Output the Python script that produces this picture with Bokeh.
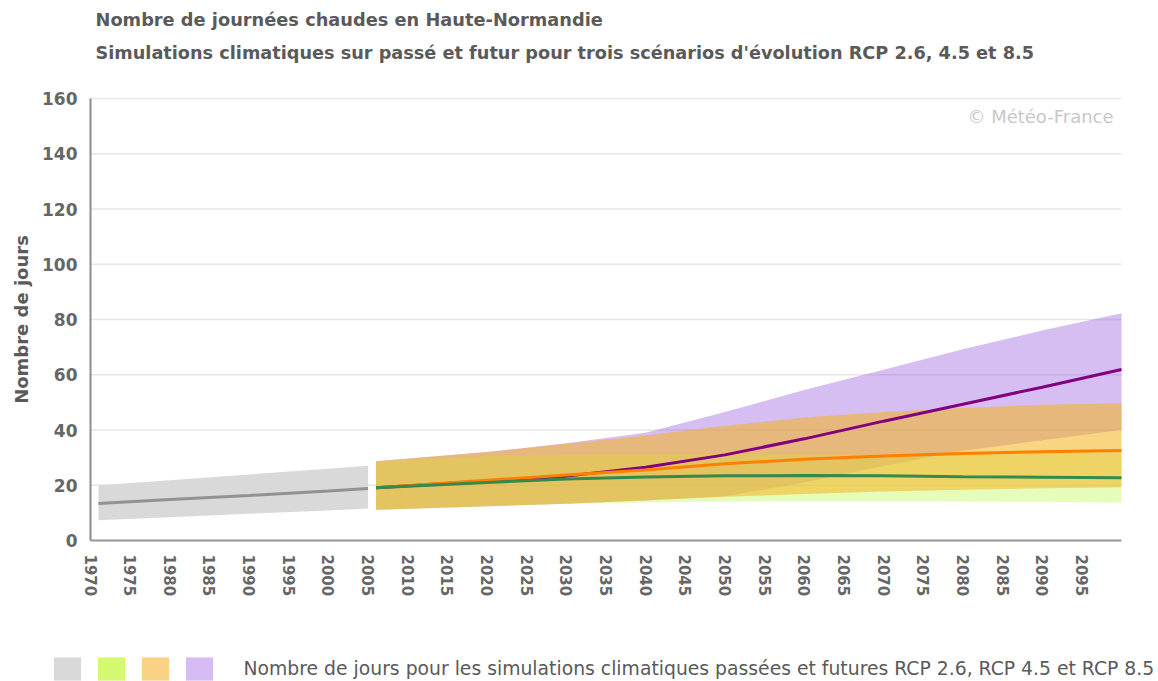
from bokeh.plotting import figure
from bokeh.models import (Range1d, FixedTicker, Label, Legend, LegendItem)
from bokeh.embed import file_html
from bokeh.resources import INLINE

# ---------------- data ----------------
title_1 = "Nombre de journées chaudes en Haute-Normandie"
title_2 = "Simulations climatiques sur passé et futur pour trois scénarios d'évolution RCP 2.6, 4.5 et 8.5"
y_title = "Nombre de jours"
legend_text = "Nombre de jours pour les simulations climatiques passées et futures RCP 2.6, RCP 4.5 et RCP 8.5"
credit = "© Météo-France"

x_ticks = list(range(1970, 2100, 5))
y_ticks = [0, 20, 40, 60, 80, 100, 120, 140, 160]

hist_years = [1971, 1980, 1990, 2000, 2005]
hist_low = [7.3, 8.4, 9.7, 10.9, 11.6]
hist_high = [20.0, 21.8, 23.9, 26.0, 27.1]
hist_mean = [13.4, 14.8, 16.3, 17.9, 18.8]

fut_years = [2006, 2020, 2030, 2040, 2050, 2060, 2070, 2080, 2090, 2100]
rcp26_low = [11.1, 12.4, 13.3, 13.8, 14.1, 14.2, 14.2, 14.1, 14.0, 13.8]
rcp26_high = [28.7, 30.5, 31.0, 31.2, 31.3, 31.2, 31.1, 31.3, 31.6, 32.0]
rcp26_mean = [19.1, 21.0, 22.3, 23.0, 23.4, 23.5, 23.4, 23.1, 22.9, 22.7]
rcp45_low = [11.1, 12.4, 13.3, 14.6, 15.8, 16.8, 17.7, 18.4, 18.9, 19.3]
rcp45_high = [28.7, 32.0, 35.0, 38.0, 41.5, 44.5, 46.5, 48.0, 49.1, 49.7]
rcp45_mean = [19.1, 21.8, 23.7, 25.5, 27.8, 29.4, 30.6, 31.5, 32.1, 32.6]
rcp85_low = [11.1, 12.4, 13.3, 14.5, 16.0, 21.0, 27.0, 32.5, 36.3, 40.0]
rcp85_high = [28.7, 32.0, 35.2, 39.0, 46.5, 54.5, 61.8, 69.2, 76.0, 82.3]
rcp85_mean = [19.1, 21.5, 23.3, 26.5, 31.0, 36.8, 43.2, 49.3, 55.5, 61.9]

X_START, X_END = 1970, 2100
Y_START, Y_END = 0, 160

# ---------------- layout (pixels) ----------------
W, H = 1158, 681
PLOT_L, PLOT_R, PLOT_T, PLOT_B = 90, 1121, 98, 540   # plot area inside the canvas
FONT = "DejaVu Sans"
TXT = "#5a5a5a"

# the frame covers the whole canvas; data ranges are widened so that the
# chart area (X_START..X_END, Y_START..Y_END) lands on PLOT_L..PLOT_R / PLOT_B..PLOT_T
kx = (X_END - X_START) / (PLOT_R - PLOT_L)
ky = (Y_END - Y_START) / (PLOT_B - PLOT_T)
x_range = Range1d(X_START - PLOT_L * kx, X_END + (W - PLOT_R) * kx)
y_range = Range1d(Y_START - (H - PLOT_B) * ky, Y_END + PLOT_T * ky)

p = figure(width=W, height=H, title=None, x_range=x_range, y_range=y_range,
           min_border=0, min_border_left=0, min_border_right=0,
           min_border_top=0, min_border_bottom=0,
           output_backend="svg", toolbar_location=None,
           background_fill_color="white", border_fill_color="white")
p.outline_line_color = None
p.grid.visible = False

# horizontal grid lines across the chart area only
p.segment(x0=[X_START] * len(y_ticks), x1=[X_END] * len(y_ticks), y0=y_ticks, y1=y_ticks,
          line_color="#e6e6e6", line_width=1.5)

# axes pinned to the chart area
p.yaxis.fixed_location = X_START
p.yaxis.bounds = (Y_START, Y_END)
p.yaxis.ticker = FixedTicker(ticks=y_ticks)
p.yaxis.axis_line_color = "#8c8c8c"
p.yaxis.axis_line_width = 2
p.yaxis.major_tick_line_color = None
p.yaxis.minor_tick_line_color = None
p.yaxis.major_label_standoff = 7
p.yaxis.major_label_text_font = FONT
p.yaxis.major_label_text_font_style = "bold"
p.yaxis.major_label_text_font_size = "17px"
p.yaxis.major_label_text_color = "#666666"
p.yaxis.axis_label = y_title
p.yaxis.axis_label_text_font = FONT
p.yaxis.axis_label_text_font_style = "bold"
p.yaxis.axis_label_text_font_size = "18px"
p.yaxis.axis_label_text_color = TXT
p.yaxis.axis_label_standoff = 7

p.xaxis.fixed_location = Y_START
p.xaxis.bounds = (X_START, X_END)
p.xaxis.ticker = FixedTicker(ticks=x_ticks)
p.xaxis.axis_line_color = "#999999"
p.xaxis.axis_line_width = 2
p.xaxis.major_tick_line_color = None
p.xaxis.minor_tick_line_color = None
p.xaxis.major_label_orientation = "vertical"
p.xaxis.major_label_standoff = 8
p.xaxis.major_label_text_font = FONT
p.xaxis.major_label_text_font_style = "bold"
p.xaxis.major_label_text_font_size = "15px"
p.xaxis.major_label_text_color = "#666666"

# bands (drawing order: past, RCP 8.5, RCP 2.6, RCP 4.5)
p.varea(x=hist_years, y1=hist_low, y2=hist_high, fill_color="#d9d9d9", fill_alpha=1.0)
p.varea(x=fut_years, y1=rcp85_low, y2=rcp85_high, fill_color="#985ade", fill_alpha=0.4)
p.varea(x=fut_years, y1=rcp26_low, y2=rcp26_high, fill_color="#c7f866", fill_alpha=0.45)
p.varea(x=fut_years, y1=rcp45_low, y2=rcp45_high, fill_color="#f4b420", fill_alpha=0.56)

# mean lines
p.line(hist_years, hist_mean, line_color="#929292", line_width=3)
p.line(fut_years, rcp85_mean, line_color="#800080", line_width=3)
p.line(fut_years, rcp45_mean, line_color="#ff7f00", line_width=3)
p.line(fut_years, rcp26_mean, line_color="#338a4c", line_width=3)

# credit watermark
p.add_layout(Label(x=2099, y=153.5, text=credit, text_align="right", text_baseline="middle",
                   text_font=FONT, text_font_size="18px", text_color="#c8c8c8"))

# titles (screen units from the canvas bottom-left)
p.add_layout(Label(x=95, y=H - 19, x_units="screen", y_units="screen", text=title_1,
                   text_baseline="alphabetic", text_font=FONT, text_font_style="bold",
                   text_font_size="17.8px", text_color=TXT))
p.add_layout(Label(x=95, y=H - 52, x_units="screen", y_units="screen", text=title_2,
                   text_baseline="alphabetic", text_font=FONT, text_font_style="bold",
                   text_font_size="17.7px", text_color=TXT))

# legend: four colour swatches (hidden copies of the bands) + one text
legend_colors = ["#d9d9d9", "#d4f870", "#f9d383", "#d7bbf4"]
swatch_data = [(hist_years, hist_low, hist_high), (fut_years, rcp26_low, rcp26_high),
               (fut_years, rcp45_low, rcp45_high), (fut_years, rcp85_low, rcp85_high)]
swatches = []
for c, (xs, lo, hi) in zip(legend_colors, swatch_data):
    r = p.varea(x=xs, y1=lo, y2=hi, fill_color=c, fill_alpha=1.0)
    r.visible = False
    swatches.append(r)
legend = Legend(items=[LegendItem(label="", renderers=[r]) for r in swatches],
                orientation="horizontal", location=(50, -2),
                glyph_width=34, glyph_height=29, spacing=10,
                label_standoff=0, label_width=0, label_height=0,
                label_text_font_size="1px",
                inactive_fill_alpha=0.0,
                padding=0, margin=0, border_line_color=None,
                background_fill_alpha=0)
p.add_layout(legend, "center")
p.add_layout(Label(x=243, y=H - 668, x_units="screen", y_units="screen", text=legend_text,
                   text_baseline="middle", text_font=FONT,
                   text_font_size="18.8px", text_color=TXT))

open("out.html", "w").write(file_html(p, INLINE))
